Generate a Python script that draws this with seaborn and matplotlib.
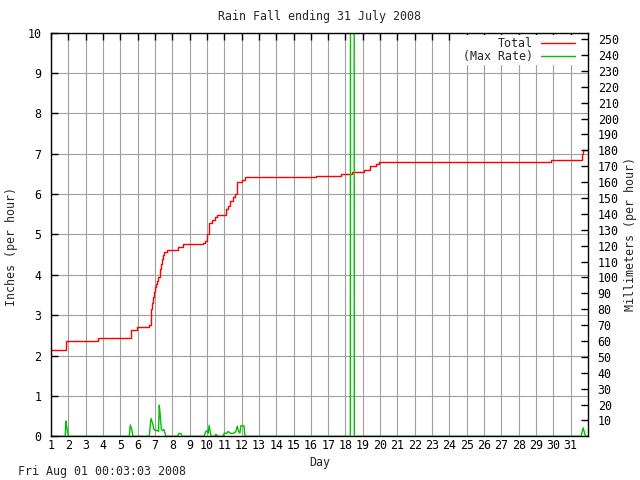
import matplotlib
matplotlib.use("Agg")
import matplotlib.pyplot as plt
import seaborn as sns
import pandas as pd

# cumulative rain total (inches), stepped
total_day = [1.0, 1.86, 3.7, 5.6, 5.94, 6.65, 6.75, 6.8, 6.85, 6.9, 6.95, 7.0, 7.05, 7.1,
             7.2, 7.28, 7.33, 7.39, 7.45, 7.52, 7.71, 8.35, 8.63, 9.79, 9.89, 9.98, 10.13,
             10.27, 10.46, 10.6, 11.08, 11.23, 11.33, 11.48, 11.62, 11.71, 12.0, 12.19,
             16.27, 17.77, 18.35, 19.08, 19.4, 19.75, 19.93, 29.85, 31.66, 31.72, 32.0]
total_in = [2.15, 2.36, 2.43, 2.64, 2.70, 2.75, 2.95, 3.15, 3.30, 3.45, 3.58, 3.69, 3.78, 3.86,
            3.94, 4.15, 4.27, 4.39, 4.50, 4.57, 4.61, 4.68, 4.76, 4.80, 4.85, 5.01, 5.28,
            5.35, 5.43, 5.49, 5.63, 5.71, 5.84, 5.94, 6.00, 6.29, 6.35, 6.43,
            6.46, 6.50, 6.56, 6.60, 6.69, 6.74, 6.79, 6.84, 7.00, 7.09, 7.09]

# max rain rate (inches per hour)
rate_day = [1.0, 1.82, 1.86, 1.90, 1.96, 2.0, 5.52, 5.58, 5.66, 5.71, 5.73,
            6.67, 6.77, 6.87, 6.94, 7.06, 7.13, 7.21, 7.25, 7.31, 7.37, 7.45, 7.52, 7.6, 7.62,
            8.3, 8.38, 8.5, 8.55, 9.83, 9.94, 10.02, 10.07, 10.13, 10.2, 10.25, 10.45, 10.52,
            10.65, 10.94, 11.0, 11.13, 11.23, 11.33, 11.46, 11.56, 11.67, 11.75, 11.83, 11.9,
            11.96, 12.14, 12.2, 18.28, 18.29, 18.50, 18.51, 31.6, 31.72, 31.85, 32.0]
rate_in = [0, 0, 0.38, 0.25, 0.10, 0, 0, 0.28, 0.17, 0.05, 0,
           0, 0.44, 0.32, 0.17, 0.14, 0.15, 0.12, 0.77, 0.50, 0.17, 0.14, 0.17, 0.04, 0,
           0, 0.07, 0.07, 0, 0, 0.12, 0.14, 0.08, 0.27, 0.08, 0, 0, 0.05,
           0, 0, 0.08, 0.07, 0.12, 0.08, 0.07, 0.08, 0.12, 0.25, 0.12, 0.08,
           0.26, 0.26, 0, 0, 12.0, 12.0, 0, 0, 0.21, 0, 0]

day_ticks = list(range(1, 32))
inch_ticks = list(range(0, 11))
mm_ticks = list(range(10, 260, 10))

total_df = pd.DataFrame({"day": total_day, "inches": total_in})
rate_df = pd.DataFrame({"day": rate_day, "inches": rate_in})

sns.set_style("white")
plt.rcParams["font.family"] = ["DejaVu Sans Mono"]
plt.rcParams["font.size"] = 8.4

fig = plt.figure(figsize=(6.4, 4.8), dpi=100)
ax = fig.add_axes([51 / 640, 1 - 436.3 / 480, 537 / 640, 403.6 / 480])

sns.lineplot(data=total_df, x="day", y="inches", ax=ax, color="#ff0000", lw=1.0,
             drawstyle="steps-post", estimator=None, sort=False, label="Total")
sns.lineplot(data=rate_df, x="day", y="inches", ax=ax, color="#00c000", lw=1.0,
             estimator=None, sort=False, label="(Max Rate)")

ax.set_xlim(1, 32)
ax.set_ylim(0, 10)
ax.set_xticks(day_ticks)
ax.set_yticks(inch_ticks)
ax.grid(True, color="#a0a0a0", lw=0.8)
ax.set_axisbelow(True)
for s in ax.spines.values():
    s.set_color("black")
    s.set_linewidth(1.0)
ax.tick_params(axis="both", direction="in", length=5, width=1.0, colors="black",
               labelsize=8.4, top=True)
ax.tick_params(axis="y", pad=7)
ax.tick_params(axis="x", pad=2)

ax.set_title("Rain Fall ending 31 July 2008", fontsize=8.4, pad=9)
ax.set_xlabel("Day", fontsize=8.4, labelpad=3)
ax.set_ylabel("Inches (per hour)", fontsize=8.4)
ax.yaxis.set_label_coords(-0.062, 0.47)

ax2 = ax.twinx()
ax2.set_ylim(0, 254)
ax2.set_yticks(mm_ticks)
ax2.tick_params(axis="y", direction="in", length=5, width=1.0, colors="black",
                labelsize=8.4, pad=7)
ax2.set_ylabel("Millimeters (per hour)", fontsize=8.4)
ax2.yaxis.set_label_coords(1.067, 0.5)
for s in ax2.spines.values():
    s.set_visible(False)

leg = ax.legend(loc="upper right", bbox_to_anchor=(0.9795, 0.995), markerfirst=False,
                frameon=True, fancybox=False, edgecolor="none", framealpha=1, fontsize=8.4,
                handlelength=2.9, handletextpad=0.7, labelspacing=0.0, borderpad=0.2,
                borderaxespad=0)

fig.text(18 / 640, 1 - 472 / 480, "Fri Aug 01 00:03:03 2008", fontsize=8.4, va="center")

plt.savefig("out.png", dpi=100)
